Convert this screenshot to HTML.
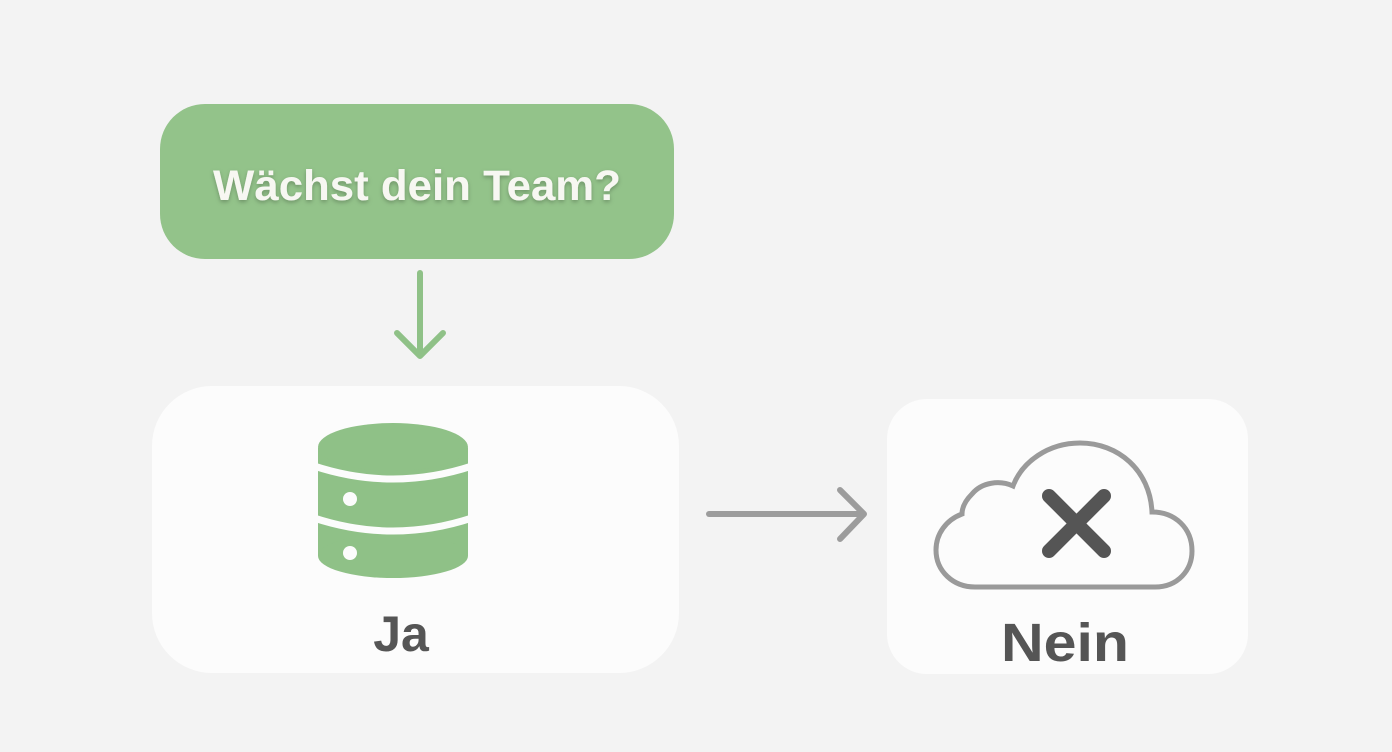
<!DOCTYPE html>
<html><head><meta charset="utf-8"><style>
html,body{margin:0;padding:0;width:1392px;height:752px;background:#f3f3f3;overflow:hidden;font-family:"Liberation Sans",sans-serif}
</style></head><body>
<svg width="1392" height="752" viewBox="0 0 1392 752" xmlns="http://www.w3.org/2000/svg">
<defs><filter id="sh" x="-10%" y="-10%" width="120%" height="130%"><feDropShadow dx="0" dy="2" stdDeviation="2" flood-color="#000" flood-opacity="0.25"/></filter></defs>
<rect x="160" y="104" width="514" height="155" rx="45" fill="#93c38a"/>
<text x="417" y="200" text-anchor="middle" font-size="43" font-weight="bold" fill="#f7f7f2" filter="url(#sh)" textLength="408" lengthAdjust="spacingAndGlyphs">Wächst dein Team?</text>
<g stroke="#8fc187" stroke-width="6" stroke-linecap="round" fill="none" stroke-linejoin="round">
<line x1="420" y1="273" x2="420" y2="354"/>
<polyline points="397,333 420,356 443,333"/>
</g>
<rect x="152" y="386" width="527" height="287" rx="60" fill="#fcfcfc"/>
<g fill="#8fc187">
<rect x="318" y="448" width="150" height="108"/>
<ellipse cx="393" cy="556" rx="75" ry="22"/>
</g>
<g stroke="#fcfcfc" stroke-width="7" fill="none">
<path d="M314,466 Q393,492 472,466"/>
<path d="M314,518 Q393,544 472,518"/>
</g>
<ellipse cx="393" cy="447" rx="75" ry="24" fill="#8fc187"/>
<circle cx="350" cy="499" r="7" fill="#fcfcfc"/>
<circle cx="350" cy="553" r="7" fill="#fcfcfc"/>
<text x="401" y="651" text-anchor="middle" font-size="50" font-weight="bold" fill="#555">Ja</text>
<g stroke="#9c9c9c" stroke-width="6" stroke-linecap="round" fill="none" stroke-linejoin="round">
<line x1="709" y1="514" x2="863" y2="514"/>
<polyline points="840,490 864,514 840,539"/>
</g>
<rect x="887" y="399" width="361" height="275" rx="40" fill="#fcfcfc"/>
<path d="M975,587 L1155,587 C1178,587 1192,570 1192,551 C1192,528 1175,512 1152,512 C1150,470 1118,443 1080,443 C1048,443 1022,462 1013,486 C1000,480 982,482 972,494 C962,504 962,512 962,514 C946,520 936,534 936,550 C936,571 953,587 975,587 Z" fill="none" stroke="#9a9a9a" stroke-width="5"/>
<g stroke="#555" stroke-width="14" stroke-linecap="round">
<line x1="1049" y1="496" x2="1104" y2="551"/>
<line x1="1104" y1="496" x2="1049" y2="551"/>
</g>
<text x="1065" y="661" text-anchor="middle" font-size="54" font-weight="bold" fill="#555" textLength="128" lengthAdjust="spacingAndGlyphs">Nein</text>
</svg>
</body></html>
